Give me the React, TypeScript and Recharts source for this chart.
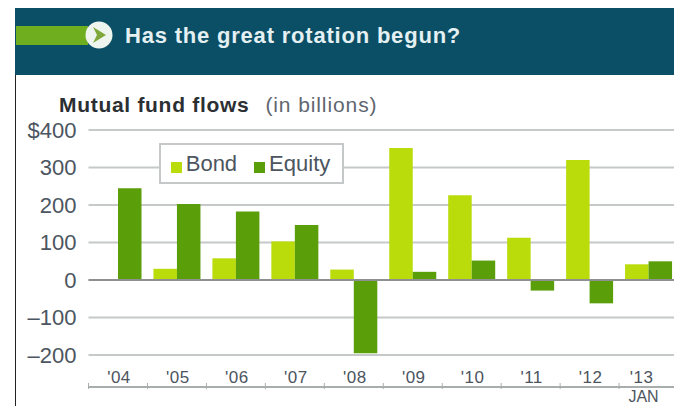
import React from "react";
import { BarChart, Bar, XAxis, YAxis, CartesianGrid, Legend, ReferenceLine } from "recharts";

const years = ["'04", "'05", "'06", "'07", "'08", "'09", "'10", "'11", "'12", "'13"];
const bond = [0, 30, 58, 103, 28, 352, 226, 113, 320, 42];
const equity = [245, 203, 183, 147, -195, 22, 52, -28, -62, 50];
const yTicks = [-200, -100, 0, 100, 200, 300, 400];
const yLabels = ["–200", "–100", "0", "100", "200", "300", "$400"];

const rows = years.map((year, i) => ({ year, Bond: bond[i], Equity: equity[i] }));
const sans = "'Liberation Sans', Arial, sans-serif";
const BAND = 58.9;
const LEGEND_HEIGHT = 41;

function YearTick({ x, y, payload }: any) {
  const isLast = payload.value === "'13";
  return (
    <g>
      <line x1={x - BAND / 2} x2={x - BAND / 2} y1={y - 4} y2={y + 2} stroke="#a8adad" />
      <text x={isLast ? x - 7 : x + 1} y={y - 4} textAnchor="middle" fontFamily={sans} fontSize={17} letterSpacing={0.5} fill="#4c5560">
        {payload.value}
      </text>
      {isLast && (
        <text x={x - 5} y={y + 15} textAnchor="middle" fontFamily={sans} fontSize={16} fill="#4c5560">
          JAN
        </text>
      )}
    </g>
  );
}

export default function App() {
  return (
    <div style={{ position: "absolute", left: 0, top: 0, width: 674, height: 406, background: "#fff", overflow: "hidden" }}>
      <div style={{ position: "absolute", left: 15, top: 8, width: 659, height: 398, borderLeft: "1px solid #222" }} />
      <div style={{ position: "absolute", left: 15, top: 8, width: 659, height: 67, background: "#0b4f66" }} />
      <div style={{ position: "absolute", left: 16, top: 26, width: 72, height: 19, background: "#6fae1f" }} />
      <svg style={{ position: "absolute", left: 85, top: 21 }} width={30} height={30}>
        <circle cx={14} cy={14} r={13.5} fill="#eef5ee" />
        <path d="M8 6 L21 14 L8 22 L12 14 Z" fill="#7fa83a" />
      </svg>
      <div style={{ position: "absolute", left: 125, top: 23, fontFamily: sans, fontWeight: 700, fontSize: 22, letterSpacing: 0.8, color: "#e4f0f2", whiteSpace: "nowrap" }}>
        Has the great rotation begun?
      </div>
      <div style={{ position: "absolute", left: 59, top: 93, fontFamily: sans, fontSize: 21, whiteSpace: "nowrap", color: "#2b2f33" }}>
        <b style={{ letterSpacing: 0.7 }}>Mutual fund flows</b>
        <span style={{ color: "#5f6670", letterSpacing: 0.9, marginLeft: 16 }}>(in billions)</span>
      </div>
      <div style={{ position: "absolute", left: 0, top: 0 }}>
        <BarChart width={678} height={406} data={rows} barCategoryGap={6} barGap={0} barSize={23.5} margin={{ top: 130 - LEGEND_HEIGHT, right: 0, bottom: 0, left: 0 }}>
          <CartesianGrid horizontal vertical={false} stroke="#c6c9c9" strokeWidth={2} />
          <XAxis
            dataKey="year"
            height={19}
            interval={0}
            tickLine={false}
            tickSize={0}
            tickMargin={0}
            axisLine={{ stroke: "#a8adad", strokeWidth: 2 }}
            tick={<YearTick />}
          />
          <YAxis
            width={88.5}
            domain={[-285, 400]}
            ticks={yTicks}
            interval={0}
            axisLine={false}
            tickLine={false}
            tickSize={0}
            tickMargin={12}
            tick={{ fontFamily: sans, fontSize: 22, fill: "#4c5560" }}
            tickFormatter={(v: number) => yLabels[yTicks.indexOf(v)]}
          />
          <Legend
            verticalAlign="top"
            iconType="square"
            iconSize={11}
            formatter={(v: string) => (
              <span style={{ color: "#4c5560", fontFamily: sans, fontSize: 22, marginRight: v === "Bond" ? 7 : 0 }}>{v}</span>
            )}
            wrapperStyle={{ left: 159, top: 143, width: 185, height: LEGEND_HEIGHT, boxSizing: "border-box", background: "#fff", border: "2px solid #c4c8c8", paddingTop: 6, paddingLeft: 8 }}
          />
          <ReferenceLine y={0} stroke="#8e9191" strokeWidth={2} />
          <Bar dataKey="Bond" fill="#b9dc0a" isAnimationActive={false} />
          <Bar dataKey="Equity" fill="#5a9e0a" isAnimationActive={false} />
        </BarChart>
      </div>
    </div>
  );
}
